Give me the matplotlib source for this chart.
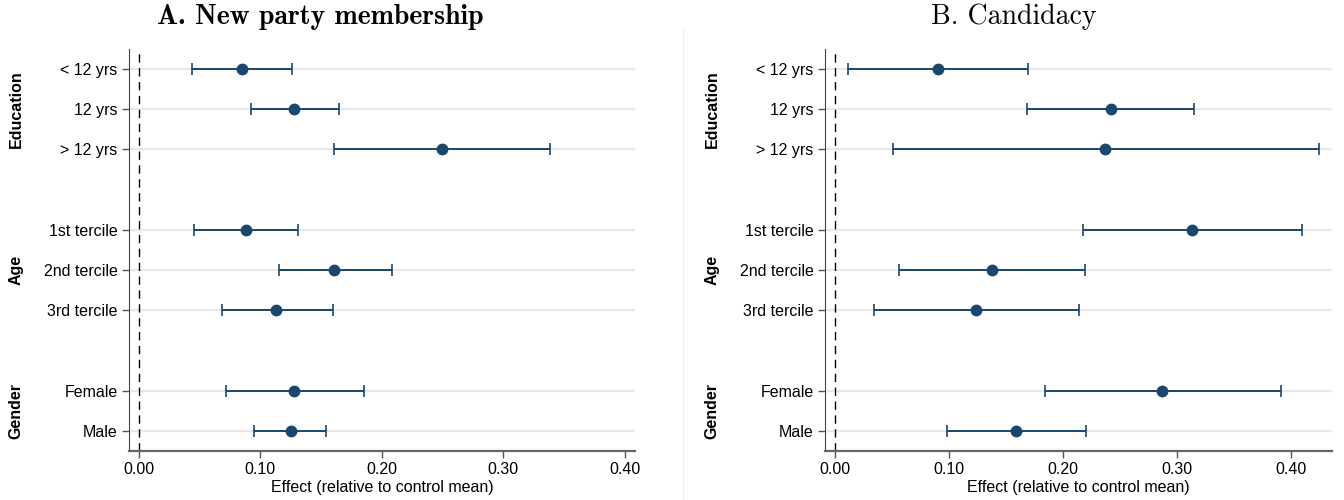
import matplotlib.pyplot as plt
from matplotlib.transforms import blended_transform_factory
from matplotlib.lines import Line2D

# row labels, top to bottom, with an empty slot between groups
row_labels = ['< 12 yrs', '12 yrs', '> 12 yrs',
              '1st tercile', '2nd tercile', '3rd tercile',
              'Female', 'Male']
row_pos = [0, 1, 2, 4, 5, 6, 8, 9]
groups = ['Education', 'Age', 'Gender']
group_pos = [1, 5, 8.5]

# A. New party membership
memb_est = [0.085, 0.128, 0.250, 0.088, 0.161, 0.113, 0.128, 0.125]
memb_lo = [0.044, 0.092, 0.161, 0.045, 0.115, 0.068, 0.072, 0.095]
memb_hi = [0.126, 0.165, 0.339, 0.131, 0.208, 0.160, 0.185, 0.154]

# B. Candidacy
cand_est = [0.090, 0.242, 0.237, 0.313, 0.138, 0.124, 0.287, 0.159]
cand_lo = [0.011, 0.168, 0.051, 0.217, 0.056, 0.034, 0.184, 0.098]
cand_hi = [0.169, 0.315, 0.424, 0.409, 0.219, 0.214, 0.391, 0.220]

xticks = [0.0, 0.1, 0.2, 0.3, 0.4]
navy = '#1a476f'
sans = ['Liberation Sans', 'DejaVu Sans']


def draw_panel(ax, est, lo, hi, xmax, xmin):
    for y in row_pos:
        ax.axhline(y, color='#e8e8e8', lw=1.6, zorder=0)
    ax.axvline(0, color='black', lw=1.0, ls=(0, (6, 4)), zorder=1)
    xerr = [[e - l for e, l in zip(est, lo)], [h - e for e, h in zip(est, hi)]]
    ax.errorbar(est, row_pos, xerr=xerr, fmt='o', color=navy, ms=7.5,
                elinewidth=1.4, capsize=4.5, capthick=1.2, zorder=3)
    ax.set_ylim(9.5, -0.5)
    ax.set_xlim(xmin, xmax)
    ax.set_yticks(row_pos)
    ax.set_yticklabels(row_labels, family=sans, fontsize=11.5)
    ax.set_xticks(xticks)
    ax.set_xticklabels(['%.2f' % t for t in xticks], family=sans, fontsize=11.5)
    ax.set_xlabel('Effect (relative to control mean)', family=sans,
                  fontsize=11.5, labelpad=2)
    ax.tick_params(axis='both', length=5, width=1, color='#555555', pad=3)
    for side in ['top', 'right']:
        ax.spines[side].set_visible(False)
    ax.spines['left'].set_color('#444444')
    ax.spines['bottom'].set_color('#666666')
    ax.spines['bottom'].set_linewidth(1.6)
    trans = blended_transform_factory(ax.transAxes, ax.transData)
    for g, y in zip(groups, group_pos):
        ax.text(-0.222, y, g, transform=trans, rotation=90, ha='center',
                va='center', family=sans, fontweight='bold', fontsize=11.5)


fig = plt.figure(figsize=(13.44, 5), dpi=100)
ax1 = fig.add_axes([0.0958, 0.098, 0.377, 0.804])
ax2 = fig.add_axes([0.6136, 0.098, 0.3775, 0.804])

draw_panel(ax1, memb_est, memb_lo, memb_hi, 0.409, -0.0085)
draw_panel(ax2, cand_est, cand_lo, cand_hi, 0.4356, -0.009)

# panel titles are centred over each whole panel, labels included
fig.text(0.238, 0.966, 'A. New party membership', family='cmb10',
         fontsize=20, ha='center', va='center')
fig.text(0.754, 0.966, 'B. Candidacy', family='cmr10',
         fontsize=20, ha='center', va='center')

# thin divider between the two panels
fig.add_artist(Line2D([0.5083, 0.5083], [0.0, 0.94], color='#f0f0f0', lw=1))

fig.savefig('out.png', dpi=100)
